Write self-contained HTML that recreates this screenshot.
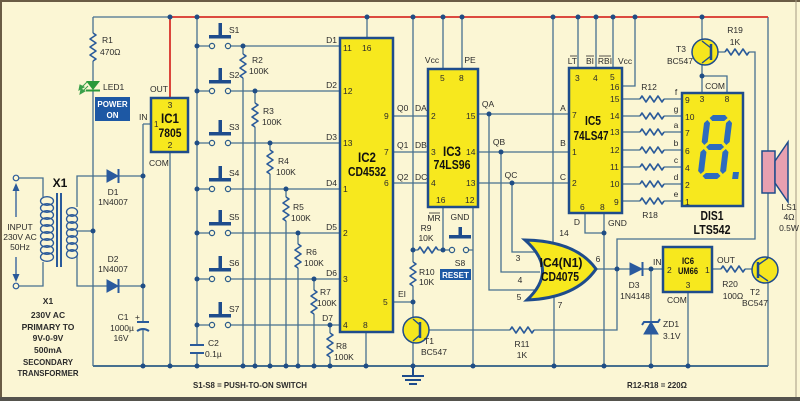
<!DOCTYPE html>
<html><head><meta charset="utf-8">
<style>
html,body{margin:0;padding:0;background:#fbf6d4;}
svg{display:block;}
text{font-family:"Liberation Sans",sans-serif;}
</style></head><body>
<svg width="800" height="401" viewBox="0 0 800 401" xmlns="http://www.w3.org/2000/svg">
<rect x="0" y="0" width="800" height="401" fill="#fbf6d4"/>
<line x1="0" y1="1" x2="800" y2="1" stroke="#6a5c45" stroke-width="2"/>
<line x1="1" y1="0" x2="1" y2="398" stroke="#6a5c45" stroke-width="2"/>
<line x1="796" y1="0" x2="796" y2="398" stroke="#a49a84" stroke-width="1"/>
<rect x="0" y="397" width="800" height="4" fill="#55534d"/>

<!-- wires -->
<g fill="none" stroke="#46708f" stroke-width="1.3">
<path d="M93 17 H170"/>
<path d="M768 17 V151"/>
<path d="M93 17 V33 M93 61 V81 M93 90 V366"/>
<path d="M19 178 H43 V197 M43 262 V286 H19"/>
<path d="M107 176 H77 V207 M77 255 V286 H107 M77 231 H93"/>
<path d="M118 176 H143 M118 286 H143"/>
<path d="M143 124 H151 M143 124 V322 M143 329 V366"/>
<path d="M170 152 V366"/>
<path d="M93 366 H768" stroke-width="2"/>
<path d="M197 17 V345 M197 353 V366"/>
<path d="M197 46 H209.4 M230.6 46 H340"/>
<path d="M197 91 H209.4 M230.6 91 H340"/>
<path d="M197 143 H209.4 M230.6 143 H340"/>
<path d="M197 189 H209.4 M230.6 189 H340"/>
<path d="M197 233 H209.4 M230.6 233 H340"/>
<path d="M197 279 H209.4 M230.6 279 H340"/>
<path d="M197 325 H209.4 M230.6 325 H340"/>
<path d="M243 46 V54 M243 78 V366"/>
<path d="M255 91 V103 M255 127 V366"/>
<path d="M270 143 V150 M270 174 V366"/>
<path d="M286 189 V197 M286 221 V366"/>
<path d="M298 233 V244 M298 268 V366"/>
<path d="M314 279 V290 M314 314 V366"/>
<path d="M330 325 V333 M330 357 V366"/>
<path d="M367 17 V38 M366 332 V366"/>
<path d="M393 116 H428 M393 152 H428 M393 183 H428"/>
<path d="M413 17 V250 H418 M438 250 H449.4 M443 207 V250 M468.6 250 H473 M473 207 V366"/>
<path d="M413 250 V262 M413 286 V319 L420 325 M413 302 H393"/>
<path d="M420 335 L413 341 V366"/>
<path d="M420 330 H510 M534 330 H617 V239 H755 V52 H749 M725 52 H711"/>
<path d="M478 114 H569 M478 152 H569 M478 183 H569"/>
<path d="M489 114 V290 H536 M501 152 V272 H540 M512 183 V252 H536"/>
<path d="M553 17 V246 M554 296 V366"/>
<path d="M596 269 H630 M642 269 H663 M651 269 V322 M651 334 V366"/>
<path d="M688 292 V366 M712 269 H721 M745 269 H758"/>
<path d="M758 265 L768 258 V193 M758 274 L768 281 V366"/>
<path d="M711 48 L702 41 V17 M711 56 L702 63 V93 M702 76 H727 V93"/>
<path d="M578 17 V68 M596 17 V68 M613 17 V68 M622 86 H635 V17"/>
<path d="M585 213 V233 H604 M604 213 V366"/>
<path d="M622 99 H640 M664 99 H682"/>
<path d="M622 116 H640 M664 116 H682"/>
<path d="M622 132 H640 M664 132 H682"/>
<path d="M622 150 H640 M664 150 H682"/>
<path d="M622 167 H640 M664 167 H682"/>
<path d="M622 184 H640 M664 184 H682"/>
<path d="M622 201 H640 M664 201 H682"/>
<path d="M443 17 V69 M462 17 V69"/>
</g>
<!-- red supply -->
<path d="M170 17 H768 M170 17 V98" fill="none" stroke="#d8322a" stroke-width="1.8"/>

<!-- resistors -->
<g fill="none" stroke="#2a5a9a" stroke-width="1.6" stroke-linejoin="round">
<path d="M93 33 l3 2 l-6 4 l6 4 l-6 4 l6 4 l-6 4 l6 4 l-3 2"/>
<path d="M243 54 l3 2 l-6 4 l6 4 l-6 4 l6 4 l-6 4 l3 2"/>
<path d="M255 103 l3 2 l-6 4 l6 4 l-6 4 l6 4 l-6 4 l3 2"/>
<path d="M270 150 l3 2 l-6 4 l6 4 l-6 4 l6 4 l-6 4 l3 2"/>
<path d="M286 197 l3 2 l-6 4 l6 4 l-6 4 l6 4 l-6 4 l3 2"/>
<path d="M298 244 l3 2 l-6 4 l6 4 l-6 4 l6 4 l-6 4 l3 2"/>
<path d="M314 290 l3 2 l-6 4 l6 4 l-6 4 l6 4 l-6 4 l3 2"/>
<path d="M330 333 l3 2 l-6 4 l6 4 l-6 4 l6 4 l-6 4 l3 2"/>
<path d="M413 262 l3 2 l-6 4 l6 4 l-6 4 l6 4 l-6 4 l3 2"/>
<path d="M418 250 l2 -3 l4 6 l4 -6 l4 6 l4 -6 l2 3"/>
<path d="M510 330 l2 -3 l4 6 l4 -6 l4 6 l4 -6 l4 6 l2 -3"/>
<path d="M725 52 l2 -3 l4 6 l4 -6 l4 6 l4 -6 l4 6 l2 -3"/>
<path d="M721 269 l2 -3 l4 6 l4 -6 l4 6 l4 -6 l4 6 l2 -3"/>
<path d="M640 99 l2 -3 l4 6 l4 -6 l4 6 l4 -6 l4 6 l2 -3"/>
<path d="M640 116 l2 -3 l4 6 l4 -6 l4 6 l4 -6 l4 6 l2 -3"/>
<path d="M640 132 l2 -3 l4 6 l4 -6 l4 6 l4 -6 l4 6 l2 -3"/>
<path d="M640 150 l2 -3 l4 6 l4 -6 l4 6 l4 -6 l4 6 l2 -3"/>
<path d="M640 167 l2 -3 l4 6 l4 -6 l4 6 l4 -6 l4 6 l2 -3"/>
<path d="M640 184 l2 -3 l4 6 l4 -6 l4 6 l4 -6 l4 6 l2 -3"/>
<path d="M640 201 l2 -3 l4 6 l4 -6 l4 6 l4 -6 l4 6 l2 -3"/>
</g>

<!-- transformer -->
<g fill="none" stroke="#2a5a9a" stroke-width="1.3">
<ellipse cx="47" cy="201" rx="6.5" ry="4.3"/><ellipse cx="47" cy="208" rx="6.5" ry="4.3"/>
<ellipse cx="47" cy="215" rx="6.5" ry="4.3"/><ellipse cx="47" cy="222" rx="6.5" ry="4.3"/>
<ellipse cx="47" cy="229" rx="6.5" ry="4.3"/><ellipse cx="47" cy="236" rx="6.5" ry="4.3"/>
<ellipse cx="47" cy="243" rx="6.5" ry="4.3"/><ellipse cx="47" cy="250" rx="6.5" ry="4.3"/>
<ellipse cx="47" cy="257" rx="6.5" ry="4.3"/>
<ellipse cx="72" cy="212" rx="5.5" ry="4.3"/><ellipse cx="72" cy="219" rx="5.5" ry="4.3"/>
<ellipse cx="72" cy="226" rx="5.5" ry="4.3"/><ellipse cx="72" cy="233" rx="5.5" ry="4.3"/>
<ellipse cx="72" cy="240" rx="5.5" ry="4.3"/><ellipse cx="72" cy="247" rx="5.5" ry="4.3"/>
<ellipse cx="72" cy="254" rx="5.5" ry="4.3"/>
<path d="M57 193 V267 M61 193 V267" stroke-width="2"/>
<path d="M16 217 V188 M16 257 V277"/>
</g>
<circle cx="16" cy="178" r="2.8" fill="#fbf6d4" stroke="#2a5a9a" stroke-width="1.2"/>
<circle cx="16" cy="286" r="2.8" fill="#fbf6d4" stroke="#2a5a9a" stroke-width="1.2"/>
<polygon points="16,183 12.5,191 19.5,191" fill="#2a5a9a"/>
<polygon points="16,282 12.5,274 19.5,274" fill="#2a5a9a"/>

<!-- diodes -->
<g fill="#2a5a9e" stroke="#2a5a9e">
<polygon points="107,170 107,182 118,176"/><line x1="118.5" y1="169" x2="118.5" y2="183" stroke-width="2"/>
<polygon points="107,280 107,292 118,286"/><line x1="118.5" y1="279" x2="118.5" y2="293" stroke-width="2"/>
<polygon points="630,263 630,275 642,269"/><line x1="642.5" y1="262" x2="642.5" y2="276" stroke-width="2"/>
<polygon points="651,322 644,334 658,334"/>
<path d="M642 325 L644 322 H658 L660 319" fill="none" stroke-width="2"/>
</g>
<!-- LED -->
<polygon points="86,81 100,81 93,90" fill="#2a9a3a"/>
<line x1="86" y1="90.5" x2="100" y2="90.5" stroke="#2a9a3a" stroke-width="2"/>
<g stroke="#3aa04a" stroke-width="1" fill="#3aa04a">
<line x1="87" y1="82" x2="81" y2="88"/><polygon points="79,90 80,85 84,87"/>
<line x1="88" y1="86" x2="82" y2="92"/><polygon points="80,94 81,89 85,91"/>
</g>
<!-- capacitors -->
<g stroke="#2a5a9a" stroke-width="2" fill="none">
<line x1="137" y1="322" x2="149" y2="322"/>
<path d="M137 331 Q143 327 149 331"/>
<line x1="190" y1="345" x2="204" y2="345"/>
<line x1="190" y1="353" x2="204" y2="353"/>
</g>

<!-- switches -->
<g fill="#1e4c8c">
<rect x="218.5" y="23" width="3.5" height="13"/><rect x="209" y="35" width="22" height="3.5"/>
<rect x="218.5" y="68" width="3.5" height="13"/><rect x="209" y="80" width="22" height="3.5"/>
<rect x="218.5" y="120" width="3.5" height="13"/><rect x="209" y="132" width="22" height="3.5"/>
<rect x="218.5" y="166" width="3.5" height="13"/><rect x="209" y="178" width="22" height="3.5"/>
<rect x="218.5" y="210" width="3.5" height="13"/><rect x="209" y="222" width="22" height="3.5"/>
<rect x="218.5" y="256" width="3.5" height="13"/><rect x="209" y="268" width="22" height="3.5"/>
<rect x="218.5" y="302" width="3.5" height="13"/><rect x="209" y="314" width="22" height="3.5"/>
<rect x="458.5" y="227" width="3.5" height="9"/><rect x="449" y="235" width="22" height="3.5"/>
</g>
<g fill="#fbf6d4" stroke="#2a5a8a" stroke-width="1.2">
<circle cx="212" cy="46" r="2.6"/><circle cx="228" cy="46" r="2.6"/>
<circle cx="212" cy="91" r="2.6"/><circle cx="228" cy="91" r="2.6"/>
<circle cx="212" cy="143" r="2.6"/><circle cx="228" cy="143" r="2.6"/>
<circle cx="212" cy="189" r="2.6"/><circle cx="228" cy="189" r="2.6"/>
<circle cx="212" cy="233" r="2.6"/><circle cx="228" cy="233" r="2.6"/>
<circle cx="212" cy="279" r="2.6"/><circle cx="228" cy="279" r="2.6"/>
<circle cx="212" cy="325" r="2.6"/><circle cx="228" cy="325" r="2.6"/>
<circle cx="452" cy="250" r="2.6"/><circle cx="466" cy="250" r="2.6"/>
</g>

<!-- ICs -->
<g fill="#f7e81e" stroke="#1e4c8c" stroke-width="2.5">
<rect x="151" y="98" width="37" height="54"/>
<rect x="340" y="38" width="53" height="294"/>
<rect x="428" y="69" width="50" height="138"/>
<rect x="569" y="68" width="53" height="145"/>
<rect x="663" y="247" width="49" height="45"/>
<rect x="682" y="93" width="61" height="113"/>
<path d="M525 240 Q559 270 527 300 Q576 298 596 269 Q576 241 525 240 Z" stroke-width="3"/>
</g>
<!-- transistors -->
<g fill="#f6e61e" stroke="#1e4c8c" stroke-width="1.5">
<circle cx="416" cy="330" r="13"/>
<circle cx="705" cy="52" r="13"/>
<circle cx="765" cy="270" r="13"/>
</g>
<g fill="none" stroke="#1e4c8c" stroke-width="1.4">
<path d="M420 322 V338" stroke-width="2.5"/>
<path d="M420 325 L413 319 M420 335 L413 341"/>
<path d="M711 44 V60" stroke-width="2.5"/>
<path d="M711 48 L702 41 M711 56 L702 63"/>
<path d="M758 262 V278" stroke-width="2.5"/>
<path d="M758 265 L768 258 M758 274 L768 281"/>
</g>
<!-- speaker -->
<rect x="762" y="151" width="13" height="42" fill="#e8a0b0" stroke="#1e4c8c" stroke-width="1.5"/>
<polygon points="775,161 788,142 788,202 775,183" fill="#e8a0b0" stroke="#1e4c8c" stroke-width="1.5"/>
<!-- ground symbol -->
<g stroke="#1e4c8c" stroke-width="2">
<line x1="413" y1="366" x2="413" y2="376"/>
<line x1="402" y1="376" x2="424" y2="376"/>
<line x1="405" y1="380" x2="421" y2="380"/>
<line x1="409" y1="384" x2="417" y2="384"/>
</g>

<!-- 7 segment -->
<g transform="translate(705,115) skewX(-7)" fill="#2d6bbf">
<polygon points="5,3 8,0 20,0 23,3 20,6 8,6"/>
<polygon points="5,32 8,29 20,29 23,32 20,35 8,35"/>
<polygon points="5,61 8,58 20,58 23,61 20,64 8,64"/>
<polygon points="3,5 6,8 6,27 3,30 0,27 0,8"/>
<polygon points="25,5 28,8 28,27 25,30 22,27 22,8"/>
<polygon points="3,34 6,37 6,56 3,59 0,56 0,37"/>
<polygon points="25,34 28,37 28,56 25,59 22,56 22,37"/>
<rect x="35" y="57" width="6" height="7"/>
</g>

<!-- dots -->
<g fill="#1f4d85">
<circle cx="170" cy="17" r="2.5"/><circle cx="197" cy="17" r="2.5"/><circle cx="367" cy="17" r="2.5"/>
<circle cx="413" cy="17" r="2.5"/><circle cx="443" cy="17" r="2.5"/><circle cx="462" cy="17" r="2.5"/>
<circle cx="553" cy="17" r="2.5"/><circle cx="578" cy="17" r="2.5"/><circle cx="596" cy="17" r="2.5"/>
<circle cx="613" cy="17" r="2.5"/><circle cx="635" cy="17" r="2.5"/><circle cx="702" cy="17" r="2.5"/>
<circle cx="197" cy="46" r="2.5"/><circle cx="197" cy="91" r="2.5"/><circle cx="197" cy="143" r="2.5"/>
<circle cx="197" cy="189" r="2.5"/><circle cx="197" cy="233" r="2.5"/><circle cx="197" cy="279" r="2.5"/>
<circle cx="197" cy="325" r="2.5"/>
<circle cx="243" cy="46" r="2.5"/><circle cx="255" cy="91" r="2.5"/><circle cx="270" cy="143" r="2.5"/>
<circle cx="286" cy="189" r="2.5"/><circle cx="298" cy="233" r="2.5"/><circle cx="314" cy="279" r="2.5"/>
<circle cx="330" cy="325" r="2.5"/>
<circle cx="93" cy="231" r="2.5"/><circle cx="143" cy="176" r="2.5"/><circle cx="143" cy="286" r="2.5"/>
<circle cx="143" cy="366" r="2.5"/><circle cx="170" cy="366" r="2.5"/><circle cx="197" cy="366" r="2.5"/>
<circle cx="243" cy="366" r="2.5"/><circle cx="255" cy="366" r="2.5"/><circle cx="270" cy="366" r="2.5"/>
<circle cx="286" cy="366" r="2.5"/><circle cx="298" cy="366" r="2.5"/><circle cx="314" cy="366" r="2.5"/>
<circle cx="330" cy="366" r="2.5"/><circle cx="366" cy="366" r="2.5"/><circle cx="413" cy="366" r="2.5"/>
<circle cx="473" cy="366" r="2.5"/><circle cx="554" cy="366" r="2.5"/><circle cx="604" cy="366" r="2.5"/>
<circle cx="651" cy="366" r="2.5"/><circle cx="688" cy="366" r="2.5"/>
<circle cx="413" cy="250" r="2.5"/><circle cx="443" cy="250" r="2.5"/><circle cx="413" cy="302" r="2.5"/>
<circle cx="489" cy="114" r="2.5"/><circle cx="501" cy="152" r="2.5"/><circle cx="512" cy="183" r="2.5"/>
<circle cx="604" cy="233" r="2.5"/><circle cx="617" cy="269" r="2.5"/><circle cx="651" cy="269" r="2.5"/>
<circle cx="702" cy="76" r="2.5"/>
</g>

<!-- blue label boxes -->
<rect x="95" y="97" width="35" height="24" fill="#1d58a4"/>
<rect x="440" y="269" width="31" height="11" fill="#1d58a4"/>
<g font-weight="bold" fill="#ffffff" font-size="8" text-anchor="middle">
<text x="112.5" y="107">POWER</text>
<text x="112.5" y="118">ON</text>
<text x="455.5" y="278">RESET</text>
</g>

<!-- IC names -->
<g font-weight="bold" fill="#111" text-anchor="middle">
<text x="170" y="123" font-size="14" textLength="18" lengthAdjust="spacingAndGlyphs">IC1</text>
<text x="170" y="137" font-size="12" textLength="23" lengthAdjust="spacingAndGlyphs">7805</text>
<text x="367" y="162" font-size="14" textLength="18" lengthAdjust="spacingAndGlyphs">IC2</text>
<text x="367" y="176" font-size="12.5" textLength="38" lengthAdjust="spacingAndGlyphs">CD4532</text>
<text x="452" y="156" font-size="14" textLength="18" lengthAdjust="spacingAndGlyphs">IC3</text>
<text x="452" y="169" font-size="12.5" textLength="37" lengthAdjust="spacingAndGlyphs">74LS96</text>
<text x="593" y="125" font-size="13" textLength="16" lengthAdjust="spacingAndGlyphs">IC5</text>
<text x="591" y="140" font-size="12.5" textLength="35" lengthAdjust="spacingAndGlyphs">74LS47</text>
<text x="561" y="267" font-size="12.5" textLength="43" lengthAdjust="spacingAndGlyphs">IC4(N1)</text>
<text x="560" y="281" font-size="12.5" textLength="38" lengthAdjust="spacingAndGlyphs">CD4075</text>
<text x="688" y="264" font-size="9.5" textLength="12" lengthAdjust="spacingAndGlyphs">IC6</text>
<text x="688" y="274" font-size="9.5" textLength="20" lengthAdjust="spacingAndGlyphs">UM66</text>
<text x="712" y="220" font-size="13" textLength="23" lengthAdjust="spacingAndGlyphs">DIS1</text>
<text x="712" y="234" font-size="13" textLength="37" lengthAdjust="spacingAndGlyphs">LTS542</text>
<text x="60" y="187" font-size="12">X1</text>
</g>

<!-- transformer notes -->
<g font-weight="bold" fill="#2b2b2b" font-size="8.5" text-anchor="middle">
<text x="48" y="304">X1</text>
<text x="48" y="318">230V AC</text>
<text x="48" y="330">PRIMARY TO</text>
<text x="48" y="341">9V-0-9V</text>
<text x="48" y="353">500mA</text>
<text x="48" y="365" textLength="50" lengthAdjust="spacingAndGlyphs">SECONDARY</text>
<text x="48" y="376" textLength="61" lengthAdjust="spacingAndGlyphs">TRANSFORMER</text>
<text x="250" y="388" textLength="114" lengthAdjust="spacingAndGlyphs">S1-S8 = PUSH-TO-ON SWITCH</text>
<text x="657" y="388" textLength="60" lengthAdjust="spacingAndGlyphs">R12-R18 = 220Ω</text>
</g>

<!-- labels -->
<g font-size="8.5" fill="#2b2b2b">
<text x="102" y="43">R1</text>
<text x="100" y="55">470Ω</text>
<text x="103" y="90">LED1</text>
<text x="150" y="92">OUT</text>
<text x="139" y="120">IN</text>
<text x="154" y="127" font-size="8">1</text>
<text x="149" y="166">COM</text>
<text x="170" y="108" text-anchor="middle">3</text>
<text x="170" y="148" text-anchor="middle">2</text>
<g text-anchor="middle">
<text x="20" y="230">INPUT</text>
<text x="20" y="240">230V AC</text>
<text x="20" y="250">50Hz</text>
<text x="113" y="195">D1</text>
<text x="113" y="205">1N4007</text>
<text x="113" y="262">D2</text>
<text x="113" y="272">1N4007</text>
<text x="123" y="320">C1</text>
<text x="122" y="331">1000µ</text>
<text x="121" y="341">16V</text>
</g>
<text x="135" y="320">+</text>
<text x="208" y="346">C2</text>
<text x="205" y="357">0.1µ</text>
<text x="229" y="33">S1</text>
<text x="229" y="78">S2</text>
<text x="229" y="130">S3</text>
<text x="229" y="176">S4</text>
<text x="229" y="220">S5</text>
<text x="229" y="266">S6</text>
<text x="229" y="312">S7</text>
<text x="252" y="63">R2</text><text x="249" y="74">100K</text>
<text x="263" y="114">R3</text><text x="262" y="125">100K</text>
<text x="278" y="164">R4</text><text x="276" y="175">100K</text>
<text x="293" y="210">R5</text><text x="291" y="221">100K</text>
<text x="306" y="255">R6</text><text x="304" y="266">100K</text>
<text x="320" y="295">R7</text><text x="317" y="306">100K</text>
<text x="336" y="349">R8</text><text x="334" y="360">100K</text>
<g text-anchor="end">
<text x="337" y="43">D1</text>
<text x="337" y="88">D2</text>
<text x="337" y="140">D3</text>
<text x="337" y="186">D4</text>
<text x="337" y="230">D5</text>
<text x="337" y="276">D6</text>
<text x="333" y="321">D7</text>
</g>
<!-- IC2 pins -->
<text x="343" y="51">11</text><text x="362" y="51">16</text>
<text x="343" y="94">12</text><text x="343" y="146">13</text>
<text x="343" y="192">1</text><text x="343" y="236">2</text>
<text x="343" y="282">3</text><text x="343" y="328">4</text>
<text x="363" y="328">8</text>
<text x="384" y="119">9</text><text x="384" y="155">7</text><text x="384" y="186">6</text>
<text x="383" y="305">5</text>
<text x="397" y="111">Q0</text><text x="415" y="111">DA</text>
<text x="397" y="148">Q1</text><text x="415" y="148">DB</text>
<text x="397" y="180">Q2</text><text x="415" y="180">DC</text>
<!-- IC3 pins -->
<text x="432" y="63" text-anchor="middle">Vcc</text>
<text x="470" y="63" text-anchor="middle">PE</text>
<text x="440" y="81">5</text><text x="459" y="81">8</text>
<text x="431" y="119">2</text><text x="431" y="155">3</text><text x="431" y="186">4</text>
<text x="466" y="119">15</text><text x="466" y="155">14</text><text x="466" y="186">13</text>
<text x="436" y="203">16</text><text x="465" y="203">12</text>
<text x="488" y="107" text-anchor="middle">QA</text>
<text x="499" y="145" text-anchor="middle">QB</text>
<text x="511" y="178" text-anchor="middle">QC</text>
<text x="563" y="111" text-anchor="middle">A</text>
<text x="563" y="146" text-anchor="middle">B</text>
<text x="563" y="180" text-anchor="middle">C</text>
<text x="434" y="221" text-anchor="middle">MR</text>
<line x1="429" y1="213" x2="440" y2="213" stroke="#2b2b2b" stroke-width="0.8"/>
<text x="460" y="220" text-anchor="middle">GND</text>
<text x="426" y="231" text-anchor="middle">R9</text>
<text x="426" y="241" text-anchor="middle">10K</text>
<text x="460" y="266" text-anchor="middle">S8</text>
<text x="419" y="275">R10</text>
<text x="419" y="285">10K</text>
<text x="398" y="297">EI</text>
<text x="424" y="344">T1</text>
<text x="421" y="355">BC547</text>
<text x="522" y="347" text-anchor="middle">R11</text>
<text x="522" y="358" text-anchor="middle">1K</text>
<!-- IC4 pins -->
<text x="518" y="261" text-anchor="middle">3</text>
<text x="520" y="283" text-anchor="middle">4</text>
<text x="519" y="300" text-anchor="middle">5</text>
<text x="564" y="236" text-anchor="middle">14</text>
<text x="560" y="308" text-anchor="middle">7</text>
<text x="598" y="262" text-anchor="middle">6</text>
<!-- IC5 -->
<text x="577" y="64" text-anchor="end">LT</text>
<line x1="570" y1="56" x2="577" y2="56" stroke="#2b2b2b" stroke-width="0.8"/>
<text x="590" y="64" text-anchor="middle">BI</text>
<line x1="586" y1="56" x2="594" y2="56" stroke="#2b2b2b" stroke-width="0.8"/>
<text x="605" y="64" text-anchor="middle">RBI</text>
<line x1="599" y1="56" x2="611" y2="56" stroke="#2b2b2b" stroke-width="0.8"/>
<text x="618" y="64">Vcc</text>
<text x="575" y="81">3</text><text x="593" y="81">4</text><text x="610" y="80">5</text>
<text x="610" y="90">16</text><text x="610" y="102">15</text><text x="610" y="119">14</text>
<text x="610" y="135">13</text><text x="610" y="153">12</text><text x="610" y="170">11</text>
<text x="610" y="187">10</text><text x="614" y="205">9</text>
<text x="572" y="118">7</text><text x="572" y="155">1</text><text x="572" y="186">2</text>
<text x="580" y="210">6</text><text x="600" y="210">8</text>
<text x="577" y="225" text-anchor="middle">D</text>
<text x="608" y="226">GND</text>
<text x="649" y="90" text-anchor="middle">R12</text>
<text x="650" y="218" text-anchor="middle">R18</text>
<!-- DIS1 -->
<g text-anchor="middle">
<text x="676" y="95">f</text><text x="676" y="112">g</text><text x="676" y="128">a</text>
<text x="676" y="146">b</text><text x="676" y="163">c</text><text x="676" y="180">d</text>
<text x="676" y="197">e</text>
</g>
<text x="685" y="103">9</text><text x="685" y="120">10</text><text x="685" y="136">7</text>
<text x="685" y="154">6</text><text x="685" y="171">4</text><text x="685" y="188">2</text>
<text x="685" y="205">1</text>
<text x="702" y="102" text-anchor="middle">3</text>
<text x="727" y="102" text-anchor="middle">8</text>
<text x="715" y="89" text-anchor="middle">COM</text>
<text x="681" y="52" text-anchor="middle">T3</text>
<text x="680" y="64" text-anchor="middle">BC547</text>
<text x="735" y="33" text-anchor="middle">R19</text>
<text x="735" y="45" text-anchor="middle">1K</text>
<!-- lower right -->
<text x="634" y="288" text-anchor="middle">D3</text>
<text x="635" y="299" text-anchor="middle">1N4148</text>
<text x="653" y="265">IN</text>
<text x="663" y="327">ZD1</text>
<text x="663" y="339">3.1V</text>
<text x="667" y="273">2</text>
<text x="705" y="273">1</text>
<text x="688" y="288" text-anchor="middle">3</text>
<text x="667" y="303">COM</text>
<text x="717" y="263">OUT</text>
<text x="730" y="287" text-anchor="middle">R20</text>
<text x="733" y="299" text-anchor="middle">100Ω</text>
<text x="755" y="295" text-anchor="middle">T2</text>
<text x="755" y="306" text-anchor="middle">BC547</text>
<text x="789" y="210" text-anchor="middle">LS1</text>
<text x="789" y="220" text-anchor="middle">4Ω</text>
<text x="789" y="231" text-anchor="middle">0.5W</text>
</g>
</svg>
</body></html>
